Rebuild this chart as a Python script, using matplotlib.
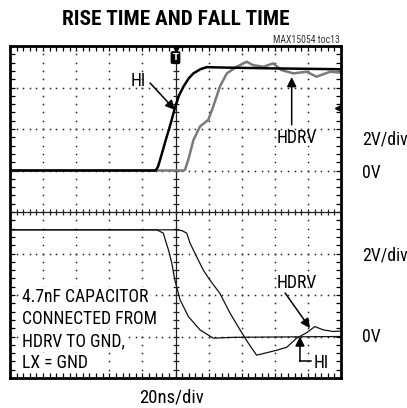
import numpy as np
import matplotlib.pyplot as plt

# time in ns, voltage in V (2V/div, 20ns/div)
hi_rise_t = [-100, -12, -10.6, -9, -6, -3, -0.4, 2, 4.8, 8, 10.8, 15, 18.8, 30, 60, 100]
hi_rise_v = [0, 0, 0.18, 0.6, 1.44, 2.24, 3.0, 3.6, 4.04, 4.44, 4.68, 4.88, 4.98, 4.96, 4.92, 4.88]

hdrv_rise_t = [-100, 5, 5.8, 8, 10.8, 14.8, 19.8, 22.8, 26.8, 31, 37, 43, 46.8, 53, 59, 64,
               71.2, 79.2, 85.2, 93.4, 99.4]
hdrv_rise_v = [0, 0, 0.04, 0.6, 1.46, 2.12, 2.44, 3.08, 4.04, 4.68, 5.0, 5.24, 5.08, 5.0, 5.16,
               4.84, 4.68, 4.76, 4.52, 4.76, 4.72]

hi_fall_t = [-100, -11.2, -7.4, -4, -2.2, -0.4, 2.8, 7.8, 14.8, 22.8, 35, 100]
hi_fall_v = [5.14, 5.14, 4.98, 4.1, 3.52, 2.72, 1.76, 0.96, 0.32, -0.08, -0.04, 0]

hdrv_fall_t = [-100, 0.6, 4, 6.8, 8.8, 12.8, 16.8, 20.8, 26.8, 33, 39, 44, 49, 55.2, 61.2,
               67.2, 73.2, 79.2, 84.2, 89.2, 95.4, 99.4]
hdrv_fall_v = [5.14, 5.14, 5.1, 4.98, 4.5, 3.84, 3.2, 2.72, 2.08, 1.12, 0.32, -0.32, -0.9,
               -0.78, -0.66, -0.52, -0.08, 0.18, 0.48, 0.32, 0.24, 0.26]

VDIV = 2.0
top_zero = 1.0      # 0V of upper traces in divisions
bot_zero = -3.0     # 0V of lower traces in divisions

W, H = 407, 408
fig = plt.figure(figsize=(W / 100, H / 100), dpi=100)
ax = fig.add_axes([10 / W, 1 - 378 / H, 331 / W, 332 / H])
ax.set_xlim(-100, 100)
ax.set_ylim(-4, 4)

FONT = ['Roboto Condensed', 'Liberation Sans Narrow', 'DejaVu Sans']


def fp(x, y):
    return x / W, 1 - y / H


# dotted graticule
steps_x = np.arange(-100, 100.1, 4)
steps_y = np.arange(-4, 4.01, 0.2)
for gx in range(-80, 81, 20):
    if gx == 0:
        continue
    ax.plot([gx] * len(steps_y), steps_y, ls='none', marker='s', ms=1.1, mew=0, color='#222')
for gy in range(-3, 4):
    if gy == 0:
        continue
    ax.plot(steps_x, [gy] * len(steps_x), ls='none', marker='s', ms=1.1, mew=0, color='#222')

# centre cross with ticks
ax.axhline(0, color='#222', lw=0.9)
ax.axvline(0, color='#222', lw=0.9)
ax.plot(steps_x, np.zeros_like(steps_x), ls='none', marker='|', ms=5, mew=0.9, color='#222')
ax.plot(np.zeros_like(steps_y), steps_y, ls='none', marker='_', ms=5, mew=0.9, color='#222')

# traces
ax.plot(hdrv_rise_t, np.array(hdrv_rise_v) / VDIV + top_zero, color='#7a7a7a', lw=1.8)
ax.plot(hi_rise_t, np.array(hi_rise_v) / VDIV + top_zero, color='black', lw=1.8)
ax.plot(hi_fall_t, np.array(hi_fall_v) / VDIV + bot_zero, color='#111', lw=0.9)
ax.plot(hdrv_fall_t, np.array(hdrv_fall_v) / VDIV + bot_zero, color='#111', lw=0.9)

# border ticks
ax.set_xticks(np.arange(-100, 101, 20))
ax.set_xticks(steps_x, minor=True)
ax.set_yticks(np.arange(-4, 5, 1))
ax.set_yticks(steps_y, minor=True)
ax.tick_params(which='both', direction='in', length=3.5, width=0.9,
               top=True, right=True, labelbottom=False, labelleft=False)
for s in ax.spines.values():
    s.set_linewidth(2.0)

# trigger marker and level
ax.text(0, 3.72, 'T', color='white', fontsize=6, fontweight='bold', ha='center', va='center',
        bbox=dict(boxstyle='round,pad=0.15', fc='black', ec='black'))
ax.plot([0], [3.93], marker='v', ms=4, color='black', clip_on=False)
ax.plot([98], [2.5], marker='<', ms=4, color='black')

arr = dict(arrowstyle='-|>', color='black', lw=1.1, mutation_scale=14, shrinkA=0, shrinkB=0)

ax.annotate('', xy=(-0.3, 2.46), xytext=(-15.4, 3.11), arrowprops=arr)
ax.annotate('', xy=(70.2, 3.25), xytext=(70.2, 2.1), arrowprops=arr)
ax.annotate('', xy=(81.3, -2.8), xytext=(66.2, -1.95), arrowprops=arr)
ax.annotate('', xy=(75.2, -3.0), xytext=(75.2, -3.6), arrowprops=arr)
ax.plot([75.2, 82.0], [-3.6, -3.6], color='black', lw=1.1)

ts = 12.7
kw = dict(fontsize=ts, family=FONT, fontstretch='condensed', va='baseline')
fig.text(*fp(138, 86), 'HI', ha='center', **kw)
fig.text(*fp(297, 143), 'HDRV', ha='center', **kw)
fig.text(*fp(297, 288), 'HDRV', ha='center', **kw)
fig.text(*fp(314, 368), 'HI', ha='left', **kw)

for line, yb in zip(['4.7nF CAPACITOR', 'CONNECTED FROM', 'HDRV TO GND,', 'LX = GND'],
                    [302, 324.5, 346.5, 368]):
    fig.text(*fp(22.5, yb), line, ha='left', bbox=dict(fc='white', ec='none', pad=0.5), **kw)

for lab, yb in zip(['2V/div', '0V', '2V/div', '0V'], [145, 178, 261, 342]):
    fig.text(*fp(362, yb), lab, ha='left', **kw)

fig.text(*fp(172, 402), '20ns/div', ha='center', fontsize=13.5, family=FONT,
         fontstretch='condensed', va='baseline')
fig.text(*fp(175.5, 25), 'RISE TIME AND FALL TIME', fontsize=15.3, family=FONT,
         fontstretch='condensed', fontweight='bold', ha='center', va='baseline')
fig.text(*fp(340, 43), 'MAX15054 toc13', fontsize=7, family=FONT, fontstretch='condensed',
         color='#333', ha='right', va='baseline')

fig.savefig('out.png', dpi=100)
